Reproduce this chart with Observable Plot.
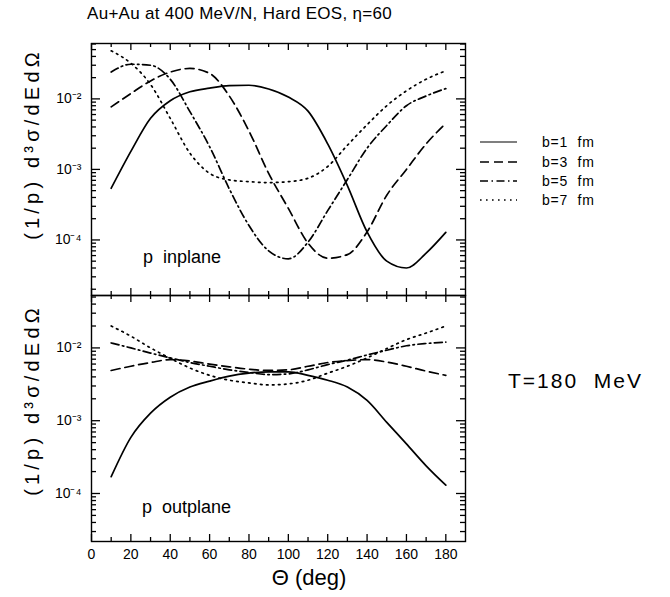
<!DOCTYPE html>
<html><head><meta charset="utf-8">
<script src="https://cdn.jsdelivr.net/npm/d3@7"></script>
<script src="https://cdn.jsdelivr.net/npm/@observablehq/plot@0.6"></script>
<style>
body{margin:0;background:#fff;}
#wrap{position:relative;width:670px;height:597px;overflow:hidden;background:#fff;}
#wrap > svg{position:absolute;left:0;}
</style></head><body><div id="wrap"></div>
<script>
// ---- data ----
const theta = [10,20,30,40,50,60,70,80,90,100,110,120,130,140,150,160,170,180];
// p inplane
const inB1 = [5.4e-4,1.8e-3,5.3e-3,9.4e-3,1.26e-2,1.42e-2,1.54e-2,1.56e-2,1.38e-2,1.06e-2,6.7e-3,2.3e-3,5.9e-4,1.3e-4,5.0e-5,4.0e-5,6.5e-5,1.28e-4];
const inB3 = [7.7e-3,1.19e-2,1.8e-2,2.4e-2,2.7e-2,2.3e-2,1.1e-2,3.5e-3,8.8e-4,2.8e-4,9.0e-5,5.5e-5,6.2e-5,1.3e-4,4.3e-4,1.0e-3,2.3e-3,4.5e-3];
const inB5 = [2.4e-2,3.1e-2,3.0e-2,1.9e-2,6.6e-3,2.1e-3,5.3e-4,1.6e-4,7.0e-5,5.4e-5,9.3e-5,2.6e-4,7.2e-4,2.0e-3,4.2e-3,8.0e-3,1.1e-2,1.4e-2];
const inB7 = [4.8e-2,3.2e-2,1.6e-2,5.3e-3,1.7e-3,8.8e-4,7.1e-4,6.7e-4,6.5e-4,6.7e-4,7.5e-4,1.1e-3,2.2e-3,4.3e-3,8.0e-3,1.3e-2,1.9e-2,2.5e-2];
// p outplane
const outB1 = [1.7e-4,5.9e-4,1.27e-3,2.1e-3,2.9e-3,3.5e-3,4.1e-3,4.5e-3,4.7e-3,4.7e-3,4.2e-3,3.6e-3,2.9e-3,1.9e-3,9.5e-4,4.8e-4,2.4e-4,1.3e-4];
const outB3 = [4.9e-3,5.6e-3,6.3e-3,6.9e-3,6.6e-3,6.0e-3,5.5e-3,5.1e-3,4.9e-3,5.0e-3,5.6e-3,6.3e-3,6.7e-3,6.9e-3,6.4e-3,5.6e-3,4.8e-3,4.2e-3];
const outB5 = [1.17e-2,1.0e-2,8.5e-3,7.3e-3,6.3e-3,5.6e-3,5.0e-3,4.6e-3,4.3e-3,4.4e-3,5.0e-3,5.9e-3,6.8e-3,8.0e-3,9.3e-3,1.07e-2,1.15e-2,1.2e-2];
const outB7 = [2.0e-2,1.45e-2,1.0e-2,7.2e-3,5.3e-3,4.2e-3,3.6e-3,3.3e-3,3.1e-3,3.2e-3,3.6e-3,4.5e-3,5.6e-3,7.3e-3,9.8e-3,1.3e-2,1.6e-2,2.0e-2];

const seriesNames = ["b=1  fm","b=3  fm","b=5  fm","b=7  fm"];
const dashes = [null,"9,5","8,3.5,1.5,3.5","1.6,4.4"];
const xMajor = [0,20,40,60,80,100,120,140,160,180];
const xMinor = [10,30,50,70,90,110,130,150,170];
const yMajor = [1e-4,1e-3,1e-2];
const yMinorMult = [2,3,4,5,6,7,8,9];
const titleText = "Au+Au at 400 MeV/N, Hard EOS, \u03b7=60";
const yTitle = "(1/p) d\u00b3\u03c3/dEd\u03a9";
const xTitle = "\u0398 (deg)";
const panelLabels = ["p  inplane","p  outplane"];
const sideNote = "T=180  MeV";

// ---- helpers ----
const sup = {"-":"\u207b","0":"\u2070","1":"\u00b9","2":"\u00b2","3":"\u00b3","4":"\u2074","5":"\u2075"};
const fmtPow = v => "10" + String(Math.round(Math.log10(v))).split("").map(c => sup[c]).join("");
function minorTicks(dom){
  const out = [];
  for (let e = -6; e <= 0; e++) for (const m of yMinorMult) {
    const v = m * Math.pow(10, e);
    if (v > dom[0] && v < dom[1]) out.push(v);
  }
  return out;
}
function rowsOf(arrs){
  const rows = [];
  arrs.forEach((a, i) => a.forEach((v, j) => rows.push({theta: theta[j], v, b: seriesNames[i]})));
  return rows;
}
const FONT = "Liberation Sans, Arial, sans-serif";
const W = 670, ML = 91, MR = 205;
const X0 = 0, X1 = 190;

function panel({arrs, yDomain, height, mt, mb, xLabels}){
  const rows = rowsOf(arrs);
  const fw = W - ML - MR, fh = height - mt - mb;
  // inward tick lengths (px) expressed in each scale's data units
  const dxPx = px => px * (X1 - X0) / fw;
  const decades = Math.log10(yDomain[1] / yDomain[0]);
  const upFrom = (v, px) => v * Math.pow(10, px * decades / fh);
  const downFrom = (v, px) => v / Math.pow(10, px * decades / fh);
  const marks = [];
  seriesNames.forEach((s, i) => marks.push(Plot.line(rows.filter(r => r.b === s), {
    x: "theta", y: "v", curve: "monotone-x", stroke: "#000", strokeWidth: 1.7,
    strokeDasharray: dashes[i] || undefined
  })));
  const ymin = minorTicks(yDomain);
  const tk = {stroke: "#000", strokeWidth: 1.3};
  marks.push(Plot.ruleY(yMajor, {y: d => d, x1: X0, x2: X0 + dxPx(9), ...tk}));
  marks.push(Plot.ruleY(ymin, {y: d => d, x1: X0, x2: X0 + dxPx(5), ...tk}));
  marks.push(Plot.ruleY(yMajor, {y: d => d, x1: X1 - dxPx(9), x2: X1, ...tk}));
  marks.push(Plot.ruleY(ymin, {y: d => d, x1: X1 - dxPx(5), x2: X1, ...tk}));
  marks.push(Plot.ruleX(xMajor, {x: d => d, y1: yDomain[0], y2: upFrom(yDomain[0], 7), ...tk}));
  marks.push(Plot.ruleX(xMinor, {x: d => d, y1: yDomain[0], y2: upFrom(yDomain[0], 4), ...tk}));
  marks.push(Plot.ruleX(xMajor, {x: d => d, y1: downFrom(yDomain[1], 7), y2: yDomain[1], ...tk}));
  marks.push(Plot.ruleX(xMinor, {x: d => d, y1: downFrom(yDomain[1], 4), y2: yDomain[1], ...tk}));
  marks.push(Plot.axisY(yMajor, {anchor: "left", tickSize: 0, tickPadding: 10, tickFormat: fmtPow, fontSize: 14, label: null}));
  if (xLabels) marks.push(Plot.axisX(xMajor, {anchor: "bottom", tickSize: 0, tickPadding: 8, fontSize: 14, label: null}));
  else marks.push(Plot.axisX(xMajor, {anchor: "bottom", tickSize: 0, tickFormat: () => "", label: null}));
  marks.push(Plot.frame({stroke: "#000", strokeWidth: 1.4}));
  return Plot.plot({
    width: W, height,
    marginLeft: ML, marginRight: MR, marginTop: mt, marginBottom: mb,
    style: {background: "none", fontFamily: FONT, color: "#000", overflow: "visible"},
    x: {domain: [X0, X1]},
    y: {type: "log", domain: yDomain},
    marks
  });
}

const wrap = document.getElementById("wrap");
const topPanel = panel({arrs: [inB1,inB3,inB5,inB7], yDomain: [1.63e-5, 6.1e-2], height: 296, mt: 43, mb: 1, xLabels: false});
topPanel.style.top = "0px";
wrap.appendChild(topPanel);
const botPanel = panel({arrs: [outB1,outB3,outB5,outB7], yDomain: [2.19e-5, 5.25e-2], height: 303, mt: 1, mb: 56, xLabels: true});
botPanel.style.top = "294px";
wrap.appendChild(botPanel);

// ---- overlay text, legend ----
const ov = d3.select(wrap).append("svg").attr("width", W).attr("height", 597)
  .style("top", "0px").style("font-family", FONT).style("pointer-events", "none");
ov.append("text").attr("x", 87).attr("y", 19).attr("font-size", 17).attr("letter-spacing", 0.3).text(titleText);
[[32, 144], [32, 400]].forEach(([x, y]) => {
  ov.append("text").attr("transform", `translate(${x},${y}) rotate(-90)`).attr("text-anchor", "middle")
    .attr("dy", "0.35em").attr("font-size", 20).attr("letter-spacing", 4.2).text(yTitle);
});
ov.append("text").attr("x", 143).attr("y", 263).attr("font-size", 18)
  .style("white-space", "pre").text(panelLabels[0]);
ov.append("text").attr("x", 142).attr("y", 513).attr("font-size", 18)
  .style("white-space", "pre").text(panelLabels[1]);
ov.append("text").attr("x", 309).attr("y", 585).attr("text-anchor", "middle").attr("font-size", 22)
  .style("white-space", "pre").text(xTitle);
ov.append("text").attr("x", 508).attr("y", 388).attr("font-size", 21).attr("letter-spacing", 2)
  .style("white-space", "pre").text(sideNote);
const legY = [142, 162, 181, 200];
seriesNames.forEach((s, i) => {
  ov.append("line").attr("x1", 480).attr("x2", 517).attr("y1", legY[i]).attr("y2", legY[i])
    .attr("stroke", "#000").attr("stroke-width", i === 0 ? 1.2 : 1.7).attr("stroke-dasharray", dashes[i]);
  ov.append("text").attr("x", 542).attr("y", legY[i] + 5).attr("font-size", 14).attr("letter-spacing", 0.8)
    .style("white-space", "pre").text(s);
});
</script></body></html>
